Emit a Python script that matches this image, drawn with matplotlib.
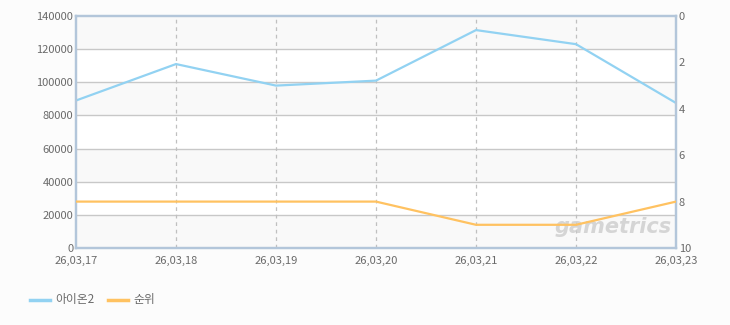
import matplotlib
matplotlib.use("Agg")
import matplotlib.pyplot as plt

plt.rcParams['font.family'] = ['Noto Sans CJK KR', 'DejaVu Sans']

dates = ["26,03,17", "26,03,18", "26,03,19", "26,03,20", "26,03,21", "26,03,22", "26,03,23"]
users = [89000, 111000, 98000, 101000, 131500, 123000, 87500]
ranks = [8, 8, 8, 8, 9, 9, 8]

blue = "#92d2f2"
orange = "#ffc261"
tick_col = "#6a6a6a"
spine_col = "#b3c6da"

fig = plt.figure(figsize=(7.3, 3.25), dpi=100, facecolor="#fcfcfc")
ax = fig.add_axes([76 / 730, 1 - 248 / 325, 600 / 730, 232 / 325])
ax.set_facecolor("white")

x = list(range(len(dates)))

# alternating bands
for i, lo in enumerate(range(0, 140000, 20000)):
    if i % 2 == 0:
        ax.axhspan(lo, lo + 20000, color="#f9f9f9", zorder=0, lw=0)
for lo in range(20000, 140000, 20000):
    ax.axhline(lo, color="#c8c8c8", lw=1, zorder=1)
for xi in x[1:-1]:
    ax.axvline(xi, color="#c0c0c0", lw=0.9, ls=(0, (3, 3)), zorder=1)

ax.plot(x, users, color=blue, lw=1.6, zorder=3)
ax.set_xlim(0, len(dates) - 1)
ax.set_ylim(0, 140000)
ax.set_yticks(range(0, 140001, 20000))
ax.set_xticks(x)
ax.set_xticklabels(dates)

ax2 = ax.twinx()
ax2.plot(x, ranks, color=orange, lw=1.6, zorder=3)
ax2.set_ylim(10, 0)
ax2.set_yticks([0, 2, 4, 6, 8, 10])

for a in (ax, ax2):
    a.tick_params(length=0, labelsize=8, colors=tick_col, pad=2)
    for s in a.spines.values():
        s.set_color(spine_col)
        s.set_linewidth(1.6)
ax.tick_params(axis="x", pad=6)

# watermark
ax.text(0.895, 0.09, "gametrics", transform=ax.transAxes, fontsize=15,
        fontweight="bold", style="italic", color="#cfcfcf", alpha=0.85,
        ha="center", va="center", family="DejaVu Sans", zorder=2)

# legend
leg = [(blue, "아이온2"), (orange, "순위")]
lx = [30, 108]
for (c, name), px in zip(leg, lx):
    fig.add_artist(plt.Line2D([px / 730, (px + 20) / 730], [1 - 300 / 325] * 2,
                              color=c, lw=2.5, transform=fig.transFigure))
    fig.text((px + 25) / 730, 1 - 300 / 325, name, fontsize=8.5, color=tick_col,
             va="center", ha="left")

fig.savefig("out.png", dpi=100, facecolor=fig.get_facecolor())
